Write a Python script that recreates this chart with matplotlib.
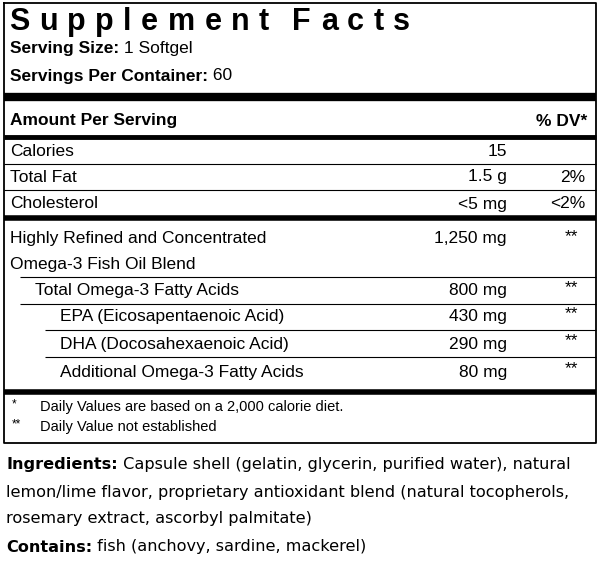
import matplotlib.pyplot as plt

plt.rcParams['font.family'] = ['Liberation Sans', 'DejaVu Sans']

title = "Supplement Facts"
serving_size = "1 Softgel"
servings = "60"

main_rows = ["Calories", "Total Fat", "Cholesterol"]
main_amounts = ["15", "1.5 g", "<5 mg"]
main_dv = ["", "2%", "<2%"]

blend_name = ["Highly Refined and Concentrated", "Omega-3 Fish Oil Blend"]
blend_amount = "1,250 mg"
sub_rows = ["Total Omega-3 Fatty Acids", "EPA (Eicosapentaenoic Acid)",
            "DHA (Docosahexaenoic Acid)", "Additional Omega-3 Fatty Acids"]
sub_indent = [1, 2, 2, 2]
sub_amounts = ["800 mg", "430 mg", "290 mg", "80 mg"]

footnotes = [("*", "Daily Values are based on a 2,000 calorie diet."),
             ("**", "Daily Value not established")]

ingredients = [
    ("Ingredients:", " Capsule shell (gelatin, glycerin, purified water), natural"),
    ("", "lemon/lime flavor, proprietary antioxidant blend (natural tocopherols,"),
    ("", "rosemary extract, ascorbyl palmitate)"),
    ("Contains:", " fish (anchovy, sardine, mackerel)"),
]

fig = plt.figure(figsize=(6, 5.68), dpi=100)
ax = fig.add_axes([0, 0, 1, 1])
ax.set_xlim(0, 600)
ax.set_ylim(568, 0)
ax.axis('off')
fig.canvas.draw()
renderer = fig.canvas.get_renderer()

L, R = 4, 596
fs = 12.5

def hline(y, lw, x0=L, x1=R):
    ax.plot([x0, x1], [y, y], color='black', lw=lw, solid_capstyle='butt')

def width(t):
    return t.get_window_extent(renderer).width

def bold_then_plain(x, y, b, t, size, family=None):
    kw = {} if family is None else {'family': family}
    tb = ax.text(x, y, b, fontsize=size, fontweight='bold', va='center', **kw)
    ax.text(x + width(tb), y, t, fontsize=size, va='center', **kw)

# border
ax.plot([L, R, R, L, L], [3, 3, 443, 443, 3], color='black', lw=1.3)

# title, letter-spaced
x = 9
for ch in title:
    if ch == ' ':
        x += 14
        continue
    t = ax.text(x, 22, ch, fontsize=22, fontweight='bold', va='center', ha='left')
    x += width(t) + 9.5

bold_then_plain(10, 49, "Serving Size:", " " + serving_size, fs)
bold_then_plain(10, 76, "Servings Per Container:", " " + servings, fs)
hline(97, 6)

ax.text(10, 121, "Amount Per Serving", fontsize=fs, fontweight='bold', va='center')
ax.text(587, 121, "% DV*", fontsize=fs, fontweight='bold', va='center', ha='right')
hline(137, 3.5)

ys = [151, 177, 204]
for i, (n, a, d) in enumerate(zip(main_rows, main_amounts, main_dv)):
    ax.text(10, ys[i], n, fontsize=fs, va='center')
    ax.text(507, ys[i], a, fontsize=fs, va='center', ha='right')
    ax.text(585, ys[i], d, fontsize=fs, va='center', ha='right')
    if i < 2:
        hline(ys[i] + 13, 0.8)
hline(218, 4)

ax.text(10, 239, blend_name[0], fontsize=fs, va='center')
ax.text(10, 264, blend_name[1], fontsize=fs, va='center')
ax.text(507, 239, blend_amount, fontsize=fs, va='center', ha='right')
ax.text(578, 237, "**", fontsize=fs, va='center', ha='right')
hline(277, 0.8, 20)

ys2 = [291, 317, 344, 372]
for i, (n, ind, a) in enumerate(zip(sub_rows, sub_indent, sub_amounts)):
    ax.text(10 + 25 * ind, ys2[i], n, fontsize=fs, va='center')
    ax.text(507, ys2[i], a, fontsize=fs, va='center', ha='right')
    ax.text(578, ys2[i] - 3, "**", fontsize=fs, va='center', ha='right')
    if i < 3:
        hline(ys2[i] + 13, 0.8, 20 if i == 0 else 45)
hline(392, 4)

for (mark, txt), y in zip(footnotes, [407, 427]):
    ax.text(12, y - 3, mark, fontsize=8.5, va='center')
    ax.text(40, y, txt, fontsize=10.5, va='center')

for (b, t), y in zip(ingredients, [465, 492, 519, 547]):
    if b:
        bold_then_plain(6, y, b, t, 11.6, 'DejaVu Sans')
    else:
        ax.text(6, y, t, fontsize=11.6, va='center', family='DejaVu Sans')

fig.savefig('out.png', dpi=100)
